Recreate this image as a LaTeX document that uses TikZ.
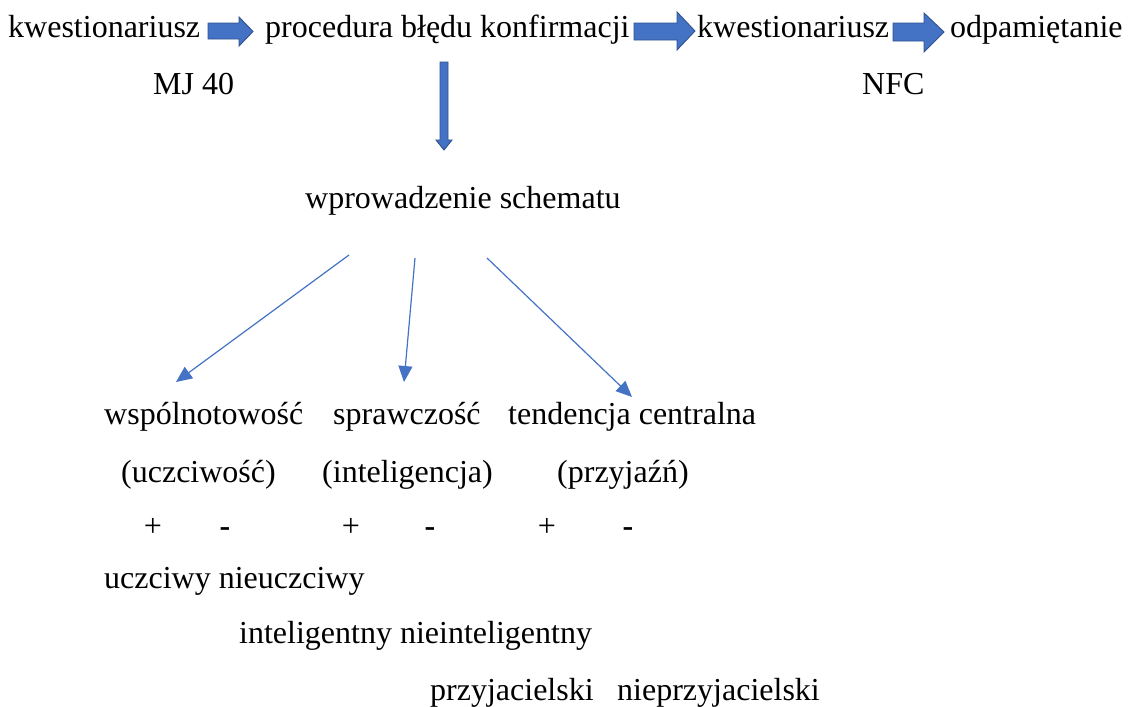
\documentclass[tikz,border=0pt]{standalone}
\usepackage{fontspec}
\setmainfont{Liberation Serif}
\usetikzlibrary{arrows.meta}
\definecolor{ablue}{HTML}{4472C4}
\definecolor{dblue}{HTML}{2F528F}
\begin{document}
\begin{tikzpicture}[x=1pt,y=-1pt,
  txt/.style={anchor=base west,inner sep=0pt,font=\fontsize{32}{38}\selectfont},
  pm/.style={anchor=base,inner sep=0pt,font=\fontsize{32}{38}\selectfont},
  blockarrow/.style={fill=ablue,draw=dblue,line width=0.9pt,line join=miter},
  thinarrow/.style={draw=ablue,line width=1.2pt,-{Triangle[length=16pt,width=14pt]}}]
\useasboundingbox (0,0) rectangle (1128,707);
% top row
\node[txt] (q1) at (8,37) {kwestionariusz};
\node[txt] (proc) at (265,37) {procedura błędu konfirmacji};
\node[txt] (q2) at (697,37) {kwestionariusz};
\node[txt] (odp) at (950,37) {odpamiętanie};
\node[txt] (mj) at (153,94) {MJ 40};
\node[txt] (nfc) at (862,94) {NFC};
% block arrows
\fill[blockarrow] (208,23) -- (239,23) -- (239,17) -- (253,31.5) -- (239,46) -- (239,39) -- (208,39) -- cycle;
\fill[blockarrow] (634,23) -- (677,23) -- (677,12) -- (695,31) -- (677,50) -- (677,40) -- (634,40) -- cycle;
\fill[blockarrow] (893,23) -- (924,23) -- (924,13) -- (944,32) -- (924,52) -- (924,41) -- (893,41) -- cycle;
\fill[blockarrow] (440,62) -- (448,62) -- (448,140) -- (452,140) -- (444,150) -- (436,140) -- (440,140) -- cycle;
% schema
\node[txt] (wpr) at (305,208) {wprowadzenie schematu};
\coordinate (s1) at (349,255);
\coordinate (s2) at (415,258);
\coordinate (s3) at (487,258);
\coordinate (e1) at (176,382);
\coordinate (e2) at (404,382);
\coordinate (e3) at (632,397);
\draw[thinarrow] (s1) -- (e1);
\draw[thinarrow] (s2) -- (e2);
\draw[thinarrow] (s3) -- (e3);
% categories
\node[txt] (wsp) at (104,424) {wspólnotowość};
\node[txt] (spr) at (333,424) {sprawczość};
\node[txt] (ten) at (508,424) {tendencja centralna};
\node[txt] (ucz) at (121,482) {(uczciwość)};
\node[txt] (intel) at (322,482) {(inteligencja)};
\node[txt] (przy) at (557,482) {(przyjaźń)};
\node[pm] (p1) at (153,536) {+};
\node[pm,font=\fontsize{32}{38}\selectfont\bfseries] (m1) at (225,536) {-};
\node[pm] (p2) at (351,536) {+};
\node[pm,font=\fontsize{32}{38}\selectfont\bfseries] (m2) at (430,536) {-};
\node[pm] (p3) at (547,536) {+};
\node[pm,font=\fontsize{32}{38}\selectfont\bfseries] (m3) at (628,536) {-};
\node[txt] (r1) at (104,588) {uczciwy nieuczciwy};
\node[txt] (r2) at (239,643) {inteligentny nieinteligentny};
\node[txt] (r3a) at (430,700) {przyjacielski};
\node[txt,anchor=base east] (r3b) at (820,700) {nieprzyjacielski};
\end{tikzpicture}
\end{document}
